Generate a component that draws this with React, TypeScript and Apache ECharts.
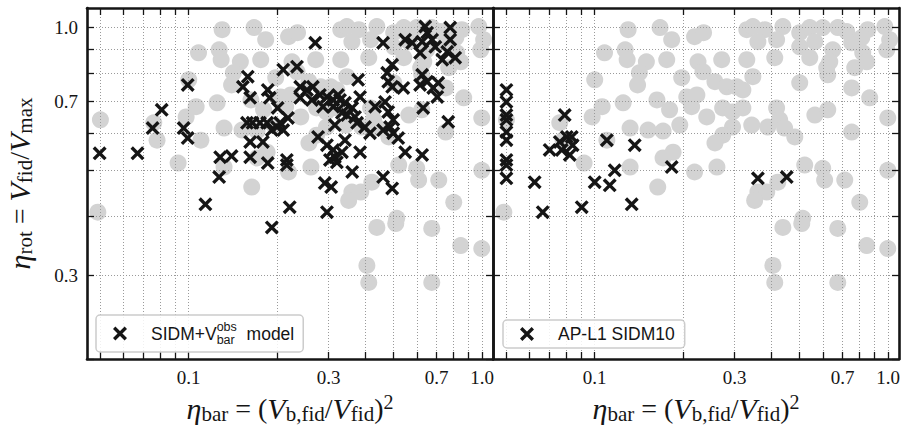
import React, { useEffect, useRef } from "react";
import * as echarts from "echarts";

// ---------- data ----------
const grayPoints: [number, number][] = [
  [0.130, 0.990], [0.167, 1.000], [0.183, 0.943], [0.219, 0.957], [0.235, 0.976], [0.330, 0.990], [0.346, 1.005], [0.380, 0.990],
  [0.438, 1.005], [0.500, 0.976], [0.541, 1.000], [0.599, 1.000], [0.674, 1.000], [0.723, 0.981], [0.853, 0.990], [0.975, 1.005],
  [0.360, 0.934], [0.417, 0.943], [1.013, 0.943], [0.990, 0.898], [0.500, 0.911], [0.648, 0.898], [0.752, 0.929], [0.820, 0.885],
  [0.108, 0.885], [0.127, 0.898], [0.129, 0.856], [0.150, 0.847], [0.176, 0.856], [0.225, 0.847], [0.271, 0.856], [0.330, 0.856],
  [0.411, 0.864], [0.541, 0.864], [0.633, 0.847], [0.770, 0.823], [0.846, 0.847],
  [0.234, 0.807], [0.142, 0.803], [0.140, 0.757], [0.100, 0.776], [0.198, 0.784], [0.257, 0.769], [0.282, 0.750], [0.305, 0.750],
  [0.346, 0.788], [0.320, 0.739], [0.623, 0.795], [0.500, 0.765], [0.752, 0.746], [0.866, 0.711],
  [0.106, 0.681], [0.098, 0.648], [0.125, 0.694], [0.163, 0.704], [0.180, 0.671], [0.206, 0.714], [0.223, 0.721], [0.214, 0.681],
  [0.241, 0.648], [0.195, 0.623], [0.132, 0.614], [0.152, 0.608], [0.171, 0.605],
  [0.273, 0.677], [0.295, 0.664], [0.295, 0.617], [0.320, 0.677], [0.343, 0.623], [0.389, 0.617], [0.417, 0.677], [0.427, 0.639],
  [0.444, 0.614], [0.481, 0.588], [0.563, 0.654], [0.623, 0.671], [0.752, 0.602], [0.998, 0.645],
  [0.273, 0.593], [0.257, 0.571], [0.185, 0.546], [0.171, 0.531], [0.164, 0.461], [0.219, 0.496], [0.132, 0.508], [0.092, 0.518],
  [0.076, 0.630], [0.110, 0.579], [0.050, 0.639], [0.049, 0.408],
  [0.261, 0.508], [0.520, 0.513], [0.599, 0.505], [0.608, 0.477], [0.712, 0.477], [0.801, 0.428], [0.998, 0.500], [0.360, 0.450],
  [0.386, 0.450], [0.421, 0.472], [0.512, 0.396], [0.351, 0.432], [0.438, 0.379], [0.508, 0.386], [0.674, 0.377], [0.846, 0.347],
  [0.998, 0.342], [0.405, 0.315], [0.411, 0.290], [0.674, 0.290],
  [0.563, 0.934], [0.814, 0.953], [0.078, 0.579], [0.618, 0.823],
];

const sidmModelPoints: [number, number][] = [
  [0.0497, 0.543], [0.0669, 0.543], [0.0809, 0.671], [0.0753, 0.614], [0.0992, 0.757], [0.0961, 0.614], [0.0992, 0.585],
  [0.128, 0.533], [0.140, 0.536], [0.127, 0.484], [0.114, 0.424],
  [0.159, 0.788], [0.153, 0.750], [0.162, 0.711], [0.186, 0.739], [0.189, 0.711], [0.201, 0.677], [0.218, 0.645], [0.210, 0.815],
  [0.234, 0.827], [0.270, 0.929],
  [0.240, 0.750], [0.253, 0.739], [0.265, 0.750], [0.240, 0.711], [0.263, 0.704], [0.280, 0.721], [0.296, 0.714], [0.311, 0.704],
  [0.287, 0.681],
  [0.158, 0.630], [0.165, 0.630], [0.175, 0.630], [0.185, 0.630], [0.205, 0.630], [0.162, 0.574], [0.179, 0.574], [0.192, 0.608],
  [0.200, 0.617], [0.210, 0.608],
  [0.162, 0.533], [0.186, 0.518], [0.216, 0.526], [0.216, 0.513], [0.221, 0.418], [0.192, 0.379],
  [0.276, 0.588], [0.296, 0.565], [0.311, 0.552], [0.315, 0.533], [0.303, 0.526], [0.291, 0.470], [0.306, 0.461], [0.296, 0.408],
  [0.315, 0.623],
  [0.460, 0.929], [0.547, 0.943], [0.578, 0.929], [0.640, 1.005], [0.650, 0.976], [0.625, 0.934], [0.676, 0.943], [0.615, 0.885],
  [0.693, 0.911], [0.779, 1.000], [0.779, 0.943], [0.761, 0.889], [0.732, 0.856], [0.810, 0.864],
  [0.494, 0.835], [0.475, 0.803], [0.479, 0.769], [0.494, 0.750], [0.539, 0.746], [0.625, 0.795], [0.650, 0.769], [0.615, 0.757],
  [0.709, 0.765], [0.682, 0.746], [0.704, 0.714], [0.630, 0.677],
  [0.378, 0.776], [0.384, 0.714], [0.323, 0.721], [0.432, 0.681], [0.467, 0.697], [0.479, 0.664], [0.361, 0.677], [0.369, 0.648],
  [0.767, 0.633], [0.498, 0.639], [0.328, 0.704], [0.311, 0.681], [0.347, 0.654], [0.375, 0.630], [0.399, 0.617], [0.415, 0.599],
  [0.460, 0.608], [0.498, 0.599], [0.486, 0.617],
  [0.341, 0.579], [0.333, 0.546], [0.320, 0.520], [0.384, 0.546], [0.361, 0.496], [0.547, 0.546], [0.625, 0.539], [0.460, 0.484],
  [0.494, 0.458], [0.518, 0.585], [0.341, 0.694], [0.333, 0.661],
];

const apL1Points: [number, number][] = [
  [0.050, 0.739], [0.050, 0.697], [0.050, 0.654], [0.050, 0.639], [0.050, 0.602], [0.050, 0.579], [0.050, 0.526], [0.050, 0.513],
  [0.050, 0.481], [0.0624, 0.472], [0.0665, 0.408], [0.0702, 0.552], [0.0760, 0.574], [0.0790, 0.654], [0.0803, 0.588],
  [0.0835, 0.588], [0.0841, 0.565], [0.0822, 0.539], [0.0772, 0.552], [0.0903, 0.418], [0.100, 0.472], [0.110, 0.579],
  [0.1125, 0.465], [0.117, 0.500], [0.1337, 0.424], [0.1369, 0.565], [0.183, 0.508], [0.360, 0.481], [0.4515, 0.484],
];

const xGridTicks = [0.05, 0.06, 0.07, 0.08, 0.09, 0.1, 0.2, 0.3, 0.4, 0.5, 0.6, 0.7, 0.8, 0.9, 1.0];
const xLabelTicks = [0.1, 0.3, 0.7, 1.0];
const yGridTicks = [0.2, 0.3, 0.4, 0.5, 0.6, 0.7, 0.8, 0.9, 1.0];
const yLabelTicks = [0.3, 0.7, 1.0];

const X_MIN = 0.045;
const X_MAX = 1.09;
const Y_MIN = 0.2;
const Y_MAX = 1.1;

const NAME_SIDM = "SIDM+V_bar^obs model";
const NAME_AP = "AP-L1 SIDM10";

// ---------- styles ----------
const INK = "#151515";
const GRAY = "#d3d3d3";
const SERIF = "'Liberation Serif', 'DejaVu Serif', serif";
const SANS = "'Liberation Sans', 'DejaVu Sans', sans-serif";
const X_ICON = "path://M0,17L17,0L100,83L83,100Z M83,0L100,17L17,100L0,83Z";

const mathRich = {
  i: { fontFamily: SERIF, fontStyle: "italic", fontSize: 30, color: INK },
  n: { fontFamily: SERIF, fontSize: 28, color: INK },
  s: { fontFamily: SERIF, fontSize: 21, color: INK, padding: [10, 0, 0, 0] },
  p: { fontFamily: SERIF, fontSize: 20, color: INK, padding: [0, 0, 14, 0] },
};

const fmt = (v: number) => v.toFixed(1);

function xAxisDef(gridIndex: number, position: "top" | "bottom", withName: boolean) {
  const bottom = position === "bottom";
  return {
    type: "log",
    logBase: 10,
    gridIndex,
    position,
    min: X_MIN,
    max: X_MAX,
    z: 3,
    axisLine: { show: true, onZero: false, lineStyle: { color: INK, width: 2.6 } },
    axisTick: { show: true, inside: true, length: 7, lineStyle: { color: INK, width: 1.3 }, customValues: xGridTicks },
    minorTick: { show: false },
    axisLabel: {
      show: bottom,
      customValues: xLabelTicks,
      formatter: fmt,
      margin: 9,
      color: INK,
      fontFamily: SERIF,
      fontSize: 19,
    },
    splitLine: { show: bottom, lineStyle: { type: [1, 2], color: "#9a9a9a", width: 1 } },
    minorSplitLine: { show: false },
    name: withName ? "{i|η}{s|bar}{n| = (}{i|V}{s|b,fid}{n|/}{i|V}{s|fid}{n|)}{p|2}" : "",
    nameLocation: "middle",
    nameGap: 30,
    nameTextStyle: { rich: mathRich, fontFamily: SERIF, fontSize: 28, color: INK },
  };
}

function yAxisDef(gridIndex: number, position: "left" | "right", withLabels: boolean, withName: boolean) {
  const left = position === "left";
  return {
    type: "log",
    logBase: 10,
    gridIndex,
    position,
    min: Y_MIN,
    max: Y_MAX,
    z: 3,
    axisLine: { show: true, onZero: false, lineStyle: { color: INK, width: 2.6 } },
    axisTick: { show: true, inside: true, length: 7, lineStyle: { color: INK, width: 1.3 }, customValues: yGridTicks },
    minorTick: { show: false },
    axisLabel: {
      show: withLabels,
      customValues: yLabelTicks,
      formatter: fmt,
      margin: 9,
      color: INK,
      fontFamily: SERIF,
      fontSize: 19,
    },
    splitLine: { show: left, lineStyle: { type: [1, 2], color: "#9a9a9a", width: 1 } },
    minorSplitLine: { show: false },
    name: withName ? "{i|η}{s|rot}{n| = }{i|V}{s|fid}{n|/}{i|V}{s|max}" : "",
    nameLocation: "middle",
    nameRotate: 90,
    nameGap: 52,
    nameTextStyle: { rich: mathRich, fontFamily: SERIF, fontSize: 28, color: INK },
  };
}

function legendDef(name: string, left: number, top: number, formatter: string, padding: number[]) {
  return {
    data: [name],
    left,
    top,
    orient: "horizontal",
    icon: X_ICON,
    itemWidth: 14,
    itemHeight: 14,
    padding,
    selectedMode: false,
    backgroundColor: "rgba(255,255,255,0.85)",
    borderColor: "#cccccc",
    borderWidth: 1.5,
    borderRadius: 4,
    formatter: () => formatter,
    textStyle: {
      fontFamily: SANS,
      fontSize: 17.5,
      color: INK,
      rich: {
        g: { width: 19 },
        sp: { width: 7 },
        t: { fontFamily: SANS, fontSize: 17.5, color: INK },
        sup: { fontFamily: SANS, fontSize: 12.5, color: INK, width: 0, padding: [0, 0, 14, 0] },
        sub: { fontFamily: SANS, fontSize: 12.5, color: INK, padding: [12, 0, 0, 0] },
      },
    },
  };
}

const xSeries = (name: string, data: [number, number][], axisIndex: number) => ({
  name,
  type: "scatter",
  xAxisIndex: axisIndex,
  yAxisIndex: axisIndex,
  data,
  symbol: X_ICON,
  symbolSize: 14,
  itemStyle: { color: INK, opacity: 1 },
  z: 5,
  silent: true,
});

const graySeries = (axisIndex: number) => ({
  name: "background",
  type: "scatter",
  xAxisIndex: axisIndex,
  yAxisIndex: axisIndex,
  data: grayPoints,
  symbol: "circle",
  symbolSize: 17,
  itemStyle: { color: GRAY, opacity: 1 },
  z: 1,
  silent: true,
});

const option = {
  animation: false,
  backgroundColor: "#ffffff",
  grid: [
    { left: 87, top: 8, width: 406, height: 351, containLabel: false, outerBoundsMode: "none" },
    { left: 493, top: 8, width: 406, height: 351, containLabel: false, outerBoundsMode: "none" },
  ],
  xAxis: [
    xAxisDef(0, "bottom", true),
    xAxisDef(0, "top", false),
    xAxisDef(1, "bottom", true),
    xAxisDef(1, "top", false),
  ],
  yAxis: [
    yAxisDef(0, "left", true, true),
    yAxisDef(0, "right", false, false),
    yAxisDef(1, "left", false, false),
    yAxisDef(1, "right", false, false),
  ],
  legend: [
    legendDef(NAME_SIDM, 96, 315, "{g|}{t|SIDM+V}{sup|obs}{sub|bar}{sp|}{t| model}", [5, 9, 6, 17]),
    legendDef(NAME_AP, 503, 320, "{g|}{t|AP-L1 SIDM10}", [5, 10, 5, 17]),
  ],
  series: [
    graySeries(0),
    xSeries(NAME_SIDM, sidmModelPoints, 0),
    graySeries(2),
    xSeries(NAME_AP, apL1Points, 2),
  ],
};

export default function App() {
  const ref = useRef<HTMLDivElement>(null);
  useEffect(() => {
    if (!ref.current) return;
    const chart = echarts.init(ref.current, null, { renderer: "svg" });
    chart.setOption(option as any);
    return () => chart.dispose();
  }, []);
  return (
    <div
      ref={ref}
      style={{ position: "absolute", left: 0, top: 0, width: 901, height: 426 }}
    />
  );
}
